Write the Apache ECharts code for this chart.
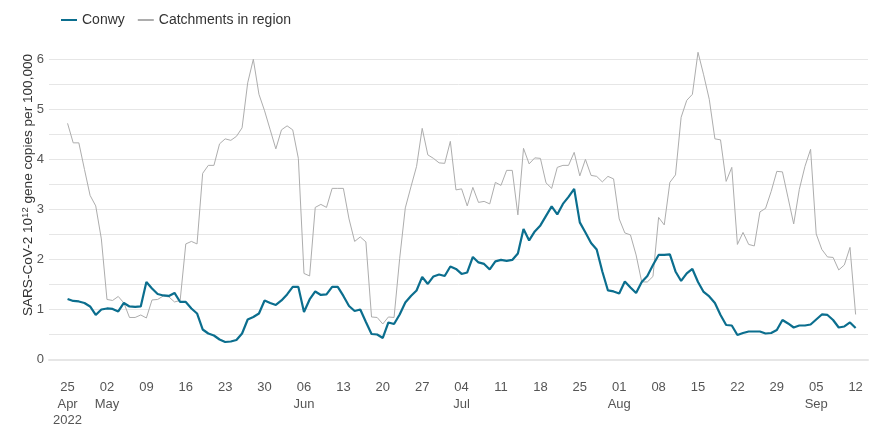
<!DOCTYPE html>
<html>
<head>
<meta charset="utf-8">
<script src="https://cdn.jsdelivr.net/npm/echarts@6/dist/echarts.min.js"></script>
<style>html,body{margin:0;padding:0;background:#fff}#c{width:872px;height:429px}</style>
</head>
<body>
<div id="c"></div>
<script>
// Dates: consecutive days from 25 Apr 2022 to 12 Sep 2022 (day index 0..140)
const startDate = '2022-04-25';
const tickDays = [0, 7, 14, 21, 28, 35, 42, 49, 56, 63, 70, 77, 84, 91, 98, 105, 112, 119, 126, 133, 140];
const tickLabels = ['25\nApr\n2022', '02\nMay', '09', '16', '23', '30', '06\nJun', '13', '20', '27', '04\nJul', '11', '18', '25', '01\nAug', '08', '15', '22', '29', '05\nSep', '12'];

const conwy = [
  1.21, 1.17, 1.16, 1.13, 1.06, 0.89, 1.00, 1.02, 1.01, 0.96,
  1.13, 1.06, 1.05, 1.06, 1.55, 1.42, 1.31, 1.28, 1.27, 1.33,
  1.15, 1.15, 1.02, 0.92, 0.60, 0.52, 0.48, 0.40, 0.35, 0.36,
  0.39, 0.52, 0.80, 0.85, 0.92, 1.18, 1.13, 1.09, 1.18, 1.30,
  1.45, 1.45, 0.95, 1.20, 1.36, 1.29, 1.30, 1.45, 1.45, 1.27,
  1.07, 0.97, 1.00, 0.75, 0.51, 0.50, 0.43, 0.74, 0.71, 0.90,
  1.14, 1.27, 1.38, 1.65, 1.51, 1.66, 1.70, 1.67, 1.86, 1.81,
  1.71, 1.74, 2.05, 1.94, 1.91, 1.80, 1.96, 1.99, 1.97, 1.99,
  2.12, 2.61, 2.38, 2.56, 2.68, 2.87, 3.06, 2.90, 3.11, 3.25,
  3.41, 2.74, 2.54, 2.33, 2.20, 1.76, 1.38, 1.36, 1.32, 1.56,
  1.44, 1.33, 1.55, 1.67, 1.89, 2.09, 2.09, 2.10, 1.76, 1.57,
  1.72, 1.81, 1.55, 1.35, 1.26, 1.13, 0.89, 0.69, 0.68, 0.49,
  0.53, 0.56, 0.56, 0.56, 0.52, 0.53, 0.59, 0.79, 0.72, 0.64,
  0.68, 0.68, 0.70, 0.80, 0.90, 0.89, 0.79, 0.64, 0.66, 0.74,
  0.63
];

const catchments = [
  4.72, 4.33, 4.33, 3.80, 3.28, 3.07, 2.41, 1.20, 1.18, 1.26,
  1.13, 0.84, 0.84, 0.89, 0.83, 1.19, 1.20, 1.27, 1.25, 1.15,
  1.18, 2.31, 2.36, 2.31, 3.72, 3.88, 3.88, 4.31, 4.41, 4.38,
  4.46, 4.63, 5.53, 6.00, 5.30, 4.97, 4.59, 4.21, 4.59, 4.67,
  4.59, 4.02, 1.72, 1.67, 3.04, 3.10, 3.04, 3.42, 3.42, 3.42,
  2.81, 2.36, 2.45, 2.35, 0.85, 0.84, 0.71, 0.85, 0.84, 2.02,
  3.03, 3.45, 3.86, 4.62, 4.09, 4.02, 3.93, 3.92, 4.36, 3.39,
  3.41, 3.07, 3.44, 3.14, 3.16, 3.11, 3.54, 3.48, 3.78, 3.78,
  2.89, 4.22, 3.91, 4.03, 4.02, 3.53, 3.42, 3.84, 3.88, 3.88,
  4.14, 3.67, 4.00, 3.68, 3.66, 3.55, 3.66, 3.61, 2.81, 2.53,
  2.49, 2.09, 1.55, 1.55, 1.66, 2.84, 2.69, 3.54, 3.69, 4.84,
  5.18, 5.30, 6.14, 5.69, 5.20, 4.41, 4.39, 3.56, 3.84, 2.30,
  2.54, 2.30, 2.27, 2.95, 3.02, 3.36, 3.76, 3.75, 3.23, 2.71,
  3.40, 3.86, 4.20, 2.51, 2.20, 2.05, 2.04, 1.79, 1.89, 2.24,
  0.90
];

const yTicksLabelled = [0, 1, 2, 3, 4, 5, 6];

const days = conwy.map((_, i) => i);
const conwyData = days.map(i => [i, conwy[i]]);
const catchData = days.map(i => [i, catchments[i]]);

const chart = echarts.init(document.getElementById('c'), null, {renderer: 'canvas'});
const font = 'Liberation Sans, Arial, sans-serif';
chart.setOption({
  animation: false,
  backgroundColor: '#ffffff',
  textStyle: {fontFamily: font},
  legend: {
    left: 55, top: 8,
    itemWidth: 16, itemHeight: 10, itemGap: 12,
    textStyle: {fontSize: 14, color: '#333', fontFamily: font},
    data: [
      {name: 'Conwy', itemStyle: {opacity: 0}},
      {name: 'Catchments in region', itemStyle: {opacity: 0}}
    ]
  },
  grid: {left: 49, right: 4, top: 59.3, bottom: 64.7, containLabel: false},
  xAxis: {
    type: 'value',
    min: -3.3, max: 142.2,
    splitLine: {show: false},
    axisTick: {show: false},
    offset: 14,
    axisLine: {show: true, lineStyle: {color: '#e6e6e6', width: 2}},
    axisLabel: {
      customValues: tickDays,
      color: '#555', fontSize: 13, fontFamily: font, lineHeight: 16.5, margin: 6,
      formatter: v => { const k = tickDays.indexOf(Math.round(v)); return k >= 0 ? tickLabels[k] : ''; }
    }
  },
  yAxis: {
    type: 'value', min: 0, max: 6, interval: 0.5,
    axisLine: {show: false}, axisTick: {show: false},
    splitLine: {lineStyle: {color: '#e6e6e6', width: 1}},
    axisLabel: {
      color: '#555', fontSize: 13, fontFamily: font, margin: 5,
      formatter: v => yTicksLabelled.indexOf(v) >= 0 ? String(v) : ''
    }
  },
  graphic: [{
    type: 'text', x: 28, y: 185, rotation: Math.PI / 2,
    style: {
      text: '{a|SARS-CoV-2 10}{s|12}{a| gene copies per 100,000}',
      align: 'center', verticalAlign: 'middle',
      rich: {
        a: {fontSize: 13.6, fontFamily: font, fill: '#333', color: '#333'},
        s: {fontSize: 9.5, fontFamily: font, fill: '#333', color: '#333', verticalAlign: 'top', padding: [0, 0, 6, 0]}
      }
    }
  }],
  series: [
    {
      name: 'Catchments in region', type: 'line', data: catchData,
      symbol: 'none', clip: false, z: 2,
      lineStyle: {color: '#adadad', width: 1}, itemStyle: {color: '#adadad'}
    },
    {
      name: 'Conwy', type: 'line', data: conwyData,
      symbol: 'none', clip: false, z: 3,
      lineStyle: {color: '#0b6e8e', width: 2.2}, itemStyle: {color: '#0b6e8e'}
    }
  ]
});
</script>
</body>
</html>
